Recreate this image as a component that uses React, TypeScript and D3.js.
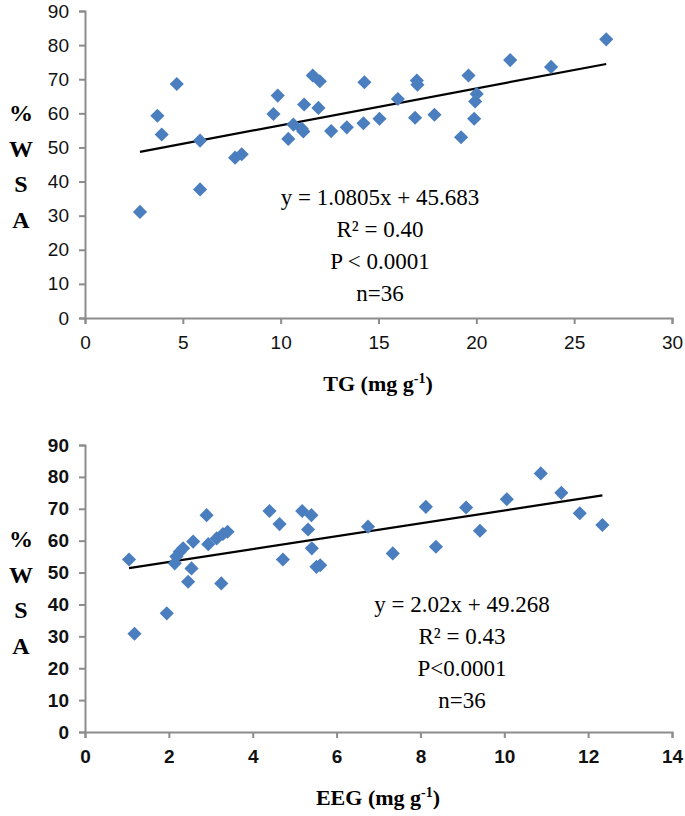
import React, { useEffect, useRef } from "react";
import * as d3 from "d3";

// top panel: TG vs %WSA
const tgX = [3.7, 3.92, 4.69, 5.88, 5.88, 7.67, 8.01, 9.63, 9.85, 10.39, 10.65, 11.08, 11.16, 11.2, 11.64, 12.0, 11.93, 12.58, 13.38, 14.23, 14.28, 15.05, 15.99, 16.87, 16.96, 16.99, 17.86, 19.22, 19.6, 19.89, 19.94, 20.02, 21.73, 23.82, 26.64, 2.81];
const tgY = [59.3, 53.8, 68.6, 52.0, 37.7, 47.0, 48.0, 59.8, 65.2, 52.5, 56.7, 55.5, 54.7, 62.6, 71.1, 69.4, 61.6, 54.8, 55.9, 57.1, 69.1, 58.4, 64.2, 58.7, 69.6, 68.4, 59.6, 53.0, 71.1, 58.4, 63.5, 65.7, 75.6, 73.6, 81.7, 31.1];

// bottom panel: EEG vs %WSA
const eegX = [1.05, 1.95, 2.14, 2.18, 2.34, 2.46, 2.54, 2.58, 2.9, 2.94, 3.14, 3.25, 3.29, 3.4, 4.4, 4.64, 4.72, 5.18, 5.32, 5.4, 5.41, 5.52, 5.61, 6.75, 7.34, 8.13, 8.37, 9.09, 9.42, 10.06, 10.87, 11.36, 11.8, 12.34, 1.18, 2.26];
const eegY = [54.1, 37.2, 52.9, 55.0, 57.6, 47.1, 51.3, 59.7, 68.0, 58.9, 60.7, 46.6, 62.1, 62.8, 69.3, 65.2, 54.1, 69.3, 63.5, 68.0, 57.6, 51.8, 52.3, 64.4, 56.0, 70.6, 58.1, 70.4, 63.1, 73.0, 81.1, 75.0, 68.6, 64.9, 30.8, 56.5];

const yTicks = [0, 10, 20, 30, 40, 50, 60, 70, 80, 90];
const tgTicks = [0, 5, 10, 15, 20, 25, 30];
const eegTicks = [0, 2, 4, 6, 8, 10, 12, 14];

const tgFit = { slope: 1.0805, intercept: 45.683 };
const eegFit = { slope: 2.02, intercept: 49.268 };

const tgNotes = ["y = 1.0805x + 45.683", "R² = 0.40", "P < 0.0001", "n=36"];
const eegNotes = ["y = 2.02x + 49.268", "R² = 0.43", "P<0.0001", "n=36"];

const yLetters = ["%", "W", "S", "A"];

function drawPanel(svg, opts) {
  const { xs, ys, xTicks, xMax, fit, notes, top, bottom, bold, title, noteX, noteY, letterY } = opts;
  const x = d3.scaleLinear().domain([0, xMax]).range([85, 672]);
  const y = d3.scaleLinear().domain([0, 90]).range([bottom, top]);
  const g = svg.append("g");
  const tickFont = bold
    ? "bold 19px 'Liberation Sans Narrow', 'Liberation Sans', Arial, sans-serif"
    : "19px 'Liberation Sans', Arial, sans-serif";

  const xAxis = g.append("g")
    .attr("transform", `translate(0,${bottom})`)
    .call(d3.axisBottom(x).tickValues(xTicks).tickSize(6).tickPadding(12).tickFormat(d3.format("d")));
  const yAxis = g.append("g")
    .attr("transform", `translate(85,0)`)
    .call(d3.axisLeft(y).tickValues(yTicks).tickSize(6).tickPadding(10).tickFormat(d3.format("d")));
  [xAxis, yAxis].forEach((a) => {
    a.select(".domain").attr("stroke", "#8c8c8c").attr("stroke-width", 2);
    a.selectAll(".tick line").attr("stroke", "#8c8c8c").attr("stroke-width", 2);
    a.selectAll(".tick text").attr("fill", "#111").style("font", tickFont);
  });

  const ext = d3.extent(xs);
  g.append("line")
    .attr("x1", x(ext[0])).attr("y1", y(fit.slope * ext[0] + fit.intercept))
    .attr("x2", x(ext[1])).attr("y2", y(fit.slope * ext[1] + fit.intercept))
    .attr("stroke", "#000").attr("stroke-width", 2.2);

  const sym = d3.symbol().type(d3.symbolSquare).size(100);
  g.selectAll("path.pt").data(xs).enter().append("path")
    .attr("class", "pt")
    .attr("d", sym)
    .attr("transform", (d, i) => `translate(${x(d)},${y(ys[i])}) rotate(45)`)
    .attr("fill", "#4a7ebf");

  g.selectAll("text.note").data(notes).enter().append("text")
    .attr("x", noteX).attr("y", (d, i) => noteY + i * 32)
    .attr("text-anchor", "middle")
    .style("font", "23px 'Liberation Serif', 'Times New Roman', serif")
    .attr("fill", "#000")
    .text((d) => d);

  g.selectAll("text.letter").data(yLetters).enter().append("text")
    .attr("x", 21).attr("y", (d, i) => letterY + i * 35.5)
    .attr("text-anchor", "middle")
    .style("font", "bold 24px 'Liberation Serif', 'Times New Roman', serif")
    .attr("fill", "#000")
    .text((d) => d);

  const t = g.append("text")
    .attr("x", 378).attr("y", bottom + 73)
    .attr("text-anchor", "middle")
    .style("font", "bold 22px 'Liberation Serif', 'Times New Roman', serif")
    .attr("fill", "#000");
  t.append("tspan").text(title + " (mg g");
  t.append("tspan").attr("dy", -8).style("font-size", "14px").text("-1");
  t.append("tspan").attr("dy", 8).text(")");
}

export default function App() {
  const ref = useRef(null);
  useEffect(() => {
    const svg = d3.select(ref.current);
    svg.selectAll("*").remove();
    drawPanel(svg, {
      xs: tgX, ys: tgY, xTicks: tgTicks, xMax: 30, fit: tgFit, notes: tgNotes,
      top: 11, bottom: 318, bold: false, title: "TG", noteX: 380, noteY: 205, letterY: 121,
    });
    drawPanel(svg, {
      xs: eegX, ys: eegY, xTicks: eegTicks, xMax: 14, fit: eegFit, notes: eegNotes,
      top: 445, bottom: 732, bold: true, title: "EEG", noteX: 462, noteY: 612, letterY: 547,
    });
  }, []);
  return (
    <svg ref={ref} width={685} height={816}
      style={{ position: "absolute", left: 0, top: 0, background: "#fff" }} />
  );
}
